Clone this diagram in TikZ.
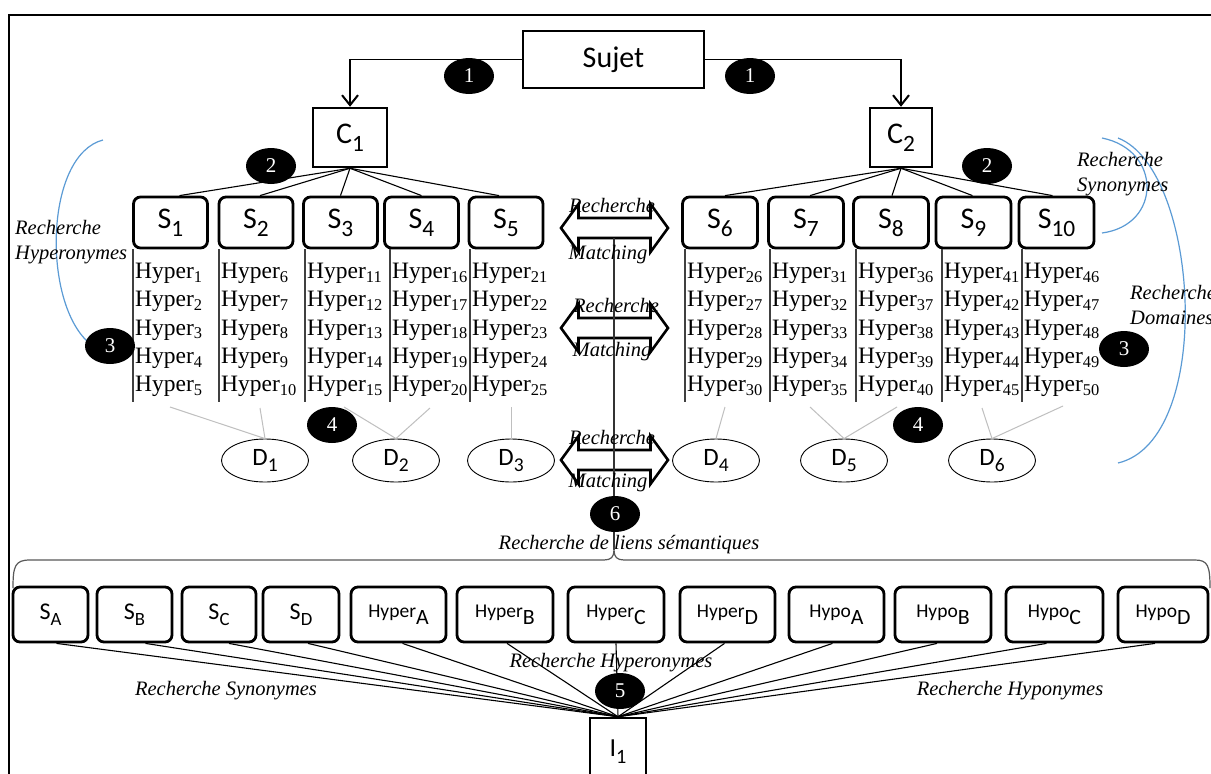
\documentclass[tikz,border=0pt]{standalone}
\usepackage{fontspec}
\setmainfont{Liberation Serif}
\newfontfamily\calibri{Carlito}
\usetikzlibrary{shapes.geometric,arrows.meta}
\definecolor{arcblue}{RGB}{91,155,213}
\newcommand\bsub[1]{\raisebox{-0.26em}{\scalebox{0.78}{#1}}}
\newcommand\hsub[1]{\raisebox{-0.36em}{\scalebox{1.12}{#1}}}
\begin{document}
\begin{tikzpicture}[x=1pt,y=-1pt,
  sqbox/.style={draw, line width=2.5pt, inner sep=0pt, font=\calibri\fontsize{30}{36}\selectfont},
  rbox/.style={draw, line width=2.8pt, rounded corners=7pt, inner sep=0pt, minimum height=51pt, font=\calibri\fontsize{30}{36}\selectfont},
  bboxs/.style={draw, line width=2.8pt, rounded corners=7pt, inner sep=0pt, minimum height=55pt, font=\calibri\fontsize{24}{28}\selectfont},
  bboxh/.style={draw, line width=2.8pt, rounded corners=7pt, inner sep=0pt, minimum height=55pt, font=\calibri\fontsize{19.5}{24}\selectfont},
  numb/.style={ellipse, fill=black, minimum width=50pt, minimum height=36pt, inner sep=0pt, text=white, font=\fontsize{21}{24}\selectfont},
  dell/.style={ellipse, draw, line width=0.9pt, minimum width=87pt, minimum height=43pt, inner sep=0pt, font=\calibri\fontsize{25}{28}\selectfont},
  lab/.style={font=\fontsize{20.5}{25}\selectfont\itshape, inner sep=0pt},
  hyp/.style={font=\fontsize{23.5}{28}\selectfont, inner sep=0pt, anchor=west},
  mylink/.style={line width=1.1pt},
  mygrey/.style={line width=1pt, draw=black!25},
  bluearc/.style={line width=1.2pt, draw=arcblue},
  hcol/.style={line width=1.3pt, draw=black!75},
  darrow/.pic={\draw[line width=2.6pt, fill=white, line join=miter]
     (-53.5,0) -- (-36,-24) -- (-36,-10) -- (36,-10) -- (36,-24) -- (53.5,0)
     -- (36,24) -- (36,10) -- (-36,10) -- (-36,24) -- cycle;}
]
\useasboundingbox (0,0) rectangle (1211,774);
\clip (0,0) rectangle (1211,774);
\fill[white] (0,0) rectangle (1211,774);
% frame
\draw[line width=2pt] (9,774) -- (9,15) -- (1211,15);

% top nodes
\node[sqbox, minimum width=181pt, minimum height=57pt] (sujet) at (613.5,59.5) {Sujet};
\node[sqbox, minimum width=74pt, minimum height=59pt] (c1) at (350,137.5) {C\bsub{1}};
\node[sqbox, minimum width=62pt, minimum height=59pt] (c2) at (901,137.5) {C\bsub{2}};
\draw[mylink, -{Straight Barb[length=10pt,width=16pt,line width=2pt]}] (sujet.west) -| (c1.north);
\draw[mylink, -{Straight Barb[length=10pt,width=16pt,line width=2pt]}] (sujet.east) -| (c2.north);

% S boxes
\foreach \nm/\x/\s in {1/170.5/9,2/256/4,3/340.5/0,4/421.5/0,5/506/-7}{
  \node[rbox, minimum width=74pt] (s\nm) at (\x,222.5) {S\bsub{\nm}};
  \draw[mylink] (c1.south) -- ([xshift=\s pt]s\nm.north);
}
\foreach \nm/\x/\s in {6/720/5,7/806/4,8/891/1,9/973.5/-1,10/1056.5/-4}{
  \node[rbox, minimum width=75pt] (s\nm) at (\x,222.5) {S\bsub{\nm}};
  \draw[mylink] (c2.south) -- ([xshift=\s pt]s\nm.north);
}

% Hyper columns
\foreach \x [count=\c from 0] in {133,219,305,390,470,685,770,856,942,1022}{
  \draw[hcol] (\x,249) -- (\x,402);
  \foreach \r in {0,...,4}{
    \pgfmathtruncatemacro\n{5*\c+\r+1}
    \node[hyp] (h\n) at (\x+2,273.5+28.3*\r) {Hyper\textsubscript{\n}};
  }
}

% D ellipses
\foreach \nm/\x in {1/265,2/396,3/511,4/716,5/844,6/992}{
  \node[dell] (d\nm) at (\x,460.5) {D\bsub{\nm}};
}
\coordinate (g1) at (170,407); \coordinate (g2) at (260,408);
\coordinate (g3) at (344,407); \coordinate (g4) at (430,408);
\coordinate (g5) at (511,407); \coordinate (g6) at (725,407);
\coordinate (g7) at (810,407); \coordinate (g8) at (897,407);
\coordinate (g9) at (982,408); \coordinate (g10) at (1063,406);
\draw[mygrey] (g1) -- (d1.north);
\draw[mygrey] (g2) -- (d1.north);
\draw[mygrey] (g3) -- (d2.north);
\draw[mygrey] (g4) -- (d2.north);
\draw[mygrey] (g5) -- (d3.north);
\draw[mygrey] (g6) -- (d4.north);
\draw[mygrey] (g7) -- (d5.north);
\draw[mygrey] (g8) -- (d5.north);
\draw[mygrey] (g9) -- (d6.north);
\draw[mygrey] (g10) -- (d6.north);

% double arrows
\pic at (614.5,228) {darrow};
\pic at (614.5,328) {darrow};
\pic at (614.5,460) {darrow};
\coordinate (vtop) at (614,238);
\coordinate (bracetip) at (614,550);
\draw[line width=1.2pt, draw=black!80] (vtop) -- (bracetip);

\node[lab] at (612,205) {Recherche};
\node[lab] at (608,255) {Matching};
\node[lab] at (616,305) {Recherche};
\node[lab] at (612,352) {Matching};
\node[lab] at (612,437) {Recherche};
\node[lab] at (608,483) {Matching};

% blue arcs
\draw[bluearc] (103,140) .. controls (45,155) and (42,300) .. (88,342);
\draw[bluearc] (1102,138) .. controls (1162,150) and (1162,225) .. (1102,233);
\draw[bluearc] (1118,138) .. controls (1200,170) and (1215,440) .. (1118,463);

\node[lab, align=left, anchor=west] at (15,242.5) {Recherche\\Hyperonymes};
\node[lab, align=left, anchor=west] at (1077,174.5) {Recherche\\Synonymes};
\node[lab, align=left, anchor=west] at (1130,305) {Recherche\\Domaines};

% brace
\draw[line width=1.2pt, draw=black!65] (13,588) .. controls (13,566) and (15,560) .. (30,560)
  -- (604,560) .. controls (611,560) and (614,557) .. (bracetip)
  .. controls (614,557) and (617,560) .. (624,560) -- (1195,560)
  .. controls (1208,560) and (1210,566) .. (1210,588);
\node[lab] at (629,545) {Recherche de liens sémantiques};

% bottom boxes
\node[sqbox, minimum width=56pt, minimum height=68pt, font=\calibri\fontsize{26}{30}\selectfont] (i1) at (618,752) {I\bsub{1}};
\node[bboxs, minimum width=75pt] (sa) at (50.5,614.5) {S\bsub{A}};
\node[bboxs, minimum width=75pt] (sb) at (134.5,614.5) {S\bsub{B}};
\node[bboxs, minimum width=74pt] (sc) at (219,614.5) {S\bsub{C}};
\node[bboxs, minimum width=76pt] (sd) at (301,614.5) {S\bsub{D}};
\node[bboxh, minimum width=95pt] (ha) at (398.5,614.5) {Hyper\hsub{A}};
\node[bboxh, minimum width=96pt] (hb) at (505,614.5) {Hyper\hsub{B}};
\node[bboxh, minimum width=96pt] (hc) at (616,614.5) {Hyper\hsub{C}};
\node[bboxh, minimum width=95pt] (hd) at (727.5,614.5) {Hyper\hsub{D}};
\node[bboxh, minimum width=95pt] (oa) at (836.5,614.5) {Hypo\hsub{A}};
\node[bboxh, minimum width=96pt] (ob) at (943,614.5) {Hypo\hsub{B}};
\node[bboxh, minimum width=97pt] (oc) at (1054.5,614.5) {Hypo\hsub{C}};
\node[bboxh, minimum width=90pt] (od) at (1163,614.5) {Hypo\hsub{D}};
\foreach \b/\s in {sa/6,sb/11,sc/10,sd/7,ha/4,hb/2,hc/0,hd/-3,oa/-4,ob/-6,oc/-8,od/-8}{
  \draw[mylink] ([xshift=\s pt]\b.south) -- (i1.north);
}
\node[lab] at (226,691) {Recherche Synonymes};
\node[lab] at (611,663) {Recherche Hyperonymes};
\node[lab] at (1010,691) {Recherche Hyponymes};

% numbered markers
\node[numb] (n1a) at (469,76) {1};
\node[numb] (n1b) at (750,76) {1};
\node[numb] (n2a) at (271,166) {2};
\node[numb] (n2b) at (987,166) {2};
\node[numb] (n3a) at (110,346) {3};
\node[numb] (n3b) at (1124,349) {3};
\node[numb] (n4a) at (332,425) {4};
\node[numb] (n4b) at (918,425) {4};
\node[numb] (n5) at (620,691) {5};
\node[numb] (n6) at (615,514) {6};
\end{tikzpicture}
\end{document}
